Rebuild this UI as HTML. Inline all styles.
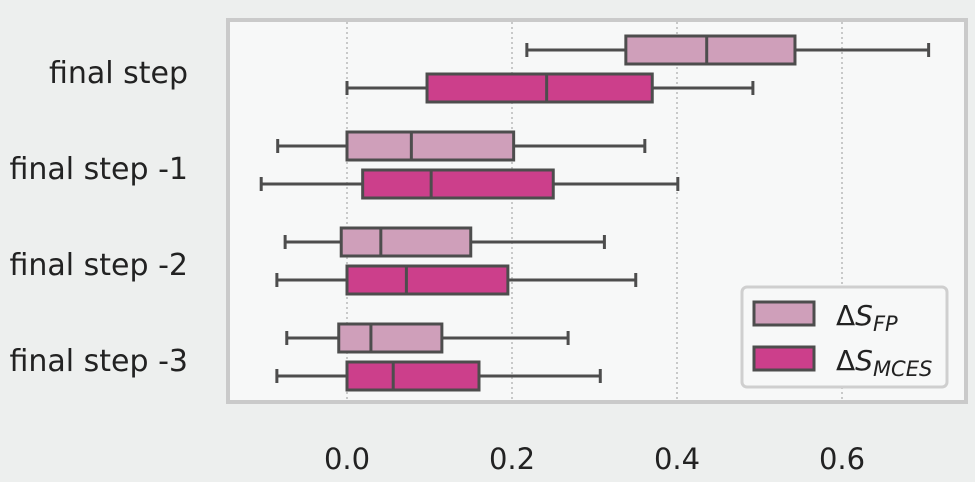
<!DOCTYPE html>
<html><head><meta charset="utf-8"><style>
body{margin:0;background:#edefee;}
svg{display:block;font-family:"DejaVu Sans","Liberation Sans",sans-serif;}
</style></head><body>
<svg id="chart" width="975" height="482">
<rect x="0" y="0" width="975" height="482" fill="#edefee"/>
<rect x="228" y="20" width="738" height="382" fill="#f7f8f8" stroke="#cacaca" stroke-width="4"/>
<g id="grid"></g>
<g id="boxes"></g>
<g id="labels"></g>
<g>
<rect x="742" y="287" width="205" height="100" rx="5" fill="#f7f8f8" stroke="#cfcfcf" stroke-width="3"/>
<rect x="754" y="302" width="60" height="23" fill="#cf9fba" stroke="#4d4d4d" stroke-width="3"/>
<text x="836" y="325" font-size="28" fill="#222">Δ<tspan font-style="italic">S</tspan><tspan font-style="italic" font-size="21" dy="6">FP</tspan></text>
<rect x="754" y="347" width="60" height="23" fill="#cc3f8b" stroke="#4d4d4d" stroke-width="3"/>
<text x="836" y="370" font-size="28" fill="#222">Δ<tspan font-style="italic">S</tspan><tspan font-style="italic" font-size="21" dy="6">MCES</tspan></text>
</g>
</svg>
<script>
const categories=["final step","final step -1","final step -2","final step -3"];
const fpStats=[[0.218,0.338,0.436,0.543,0.705],[-0.084,0,0.078,0.202,0.361],[-0.075,-0.007,0.041,0.15,0.312],[-0.073,-0.01,0.029,0.115,0.268]];
const mcesStats=[[0,0.097,0.242,0.37,0.492],[-0.104,0.019,0.102,0.25,0.401],[-0.085,0,0.072,0.195,0.35],[-0.085,0,0.056,0.16,0.307]];
const xTicks=[0,0.2,0.4,0.6];
const xTickLabels=["0.0","0.2","0.4","0.6"];
const NS="http://www.w3.org/2000/svg";
const x=v=>347+v*825;
const yc=i=>69+i*96;
function mk(tag,attrs,parent){const e=document.createElementNS(NS,tag);for(const k in attrs)e.setAttribute(k,attrs[k]);parent.appendChild(e);return e;}
const grid=document.getElementById('grid'),boxes=document.getElementById('boxes'),labels=document.getElementById('labels');
xTicks.forEach((t,i)=>{
 const l=mk('line',{x1:x(t),x2:x(t),y1:22,y2:400,stroke:'#aaa','stroke-width':1.2,'stroke-dasharray':'2,3'},grid);
 
 
 const tx=mk('text',{x:x(t),y:469,'font-size':29,fill:'#222','text-anchor':'middle'},labels);
 tx.textContent=xTickLabels[i];
 
 
});
function drawBox(s,cy,fill,name){
 const g=mk('g',{},boxes);
 
 
 const st={stroke:'#4d4d4d','stroke-width':3};
 mk('line',Object.assign({x1:x(s[0]),x2:x(s[1]),y1:cy,y2:cy},st),g);
 mk('line',Object.assign({x1:x(s[3]),x2:x(s[4]),y1:cy,y2:cy},st),g);
 mk('line',Object.assign({x1:x(s[0]),x2:x(s[0]),y1:cy-7,y2:cy+7},st),g);
 mk('line',Object.assign({x1:x(s[4]),x2:x(s[4]),y1:cy-7,y2:cy+7},st),g);
 mk('rect',Object.assign({x:x(s[1]),y:cy-14,width:x(s[3])-x(s[1]),height:28,fill:fill},st),g);
 mk('line',Object.assign({x1:x(s[2]),x2:x(s[2]),y1:cy-14,y2:cy+14},st),g);
}
categories.forEach((c,i)=>{
 drawBox(fpStats[i],yc(i)-19,'#cf9fba','box-fp');
 drawBox(mcesStats[i],yc(i)+19,'#cc3f8b','box-mces');
 const t=mk('text',{x:188,y:yc(i)+14,'font-size':30,fill:'#222','text-anchor':'end'},labels);
 t.textContent=c;
 
 
});
</script>
</body></html>
